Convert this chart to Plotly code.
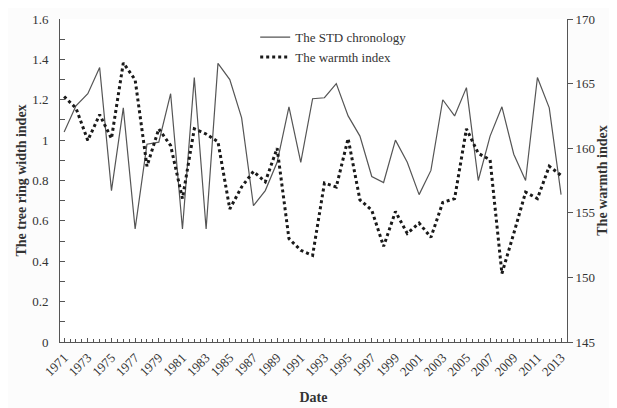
import plotly.graph_objects as go

# years and the two series
years = list(range(1971, 2014))

std_chronology = [1.04, 1.17, 1.23, 1.36, 0.75, 1.16, 0.56, 0.98, 0.99, 1.23,
                  0.56, 1.31, 0.56, 1.38, 1.30, 1.11, 0.675, 0.75, 0.89, 1.165,
                  0.89, 1.205, 1.21, 1.28, 1.12, 1.02, 0.82, 0.79, 1.00, 0.89,
                  0.73, 0.85, 1.20, 1.12, 1.26, 0.80, 1.02, 1.165, 0.93, 0.80,
                  1.31, 1.16, 0.73]

warmth_index = [164.0, 163.1, 160.6, 162.6, 160.75, 166.6, 165.3, 158.6, 161.5, 160.2,
                156.1, 161.5, 161.1, 160.5, 155.3, 157.0, 158.2, 157.4, 160.0, 153.0,
                152.1, 151.7, 157.3, 157.0, 160.75, 156.0, 155.2, 152.4, 155.1, 153.4,
                154.2, 153.1, 155.8, 156.1, 161.5, 159.6, 159.1, 150.3, 153.4, 156.6,
                156.1, 158.6, 157.9]

year_labels = list(range(1971, 2014, 2))

serif = "Liberation Serif, Times New Roman, serif"

fig = go.Figure()

fig.add_trace(go.Scatter(x=years, y=std_chronology, mode="lines",
                         name="The STD chronology",
                         line=dict(color="#555555", width=1.2)))
fig.add_trace(go.Scatter(x=years, y=warmth_index, mode="lines",
                         name="The warmth index", yaxis="y2",
                         line=dict(color="#1a1a1a", width=3, dash="3px,3px")))

# page body has an 8px margin, so the figure is a bit smaller than the window
fig.update_layout(
    width=609, height=400,
    margin=dict(l=52, r=50, t=11, b=66),
    plot_bgcolor="white", paper_bgcolor="#fcfcfc",
    font=dict(family=serif, size=13, color="#333333"),
    showlegend=True,
    legend=dict(x=0.385, y=0.99, xanchor="left", yanchor="top",
                bgcolor="rgba(0,0,0,0)", font=dict(size=13, color="#333333"),
                tracegroupgap=0, itemwidth=30),
    xaxis=dict(range=[1970.65, 2013.5], tickvals=year_labels,
               ticktext=[str(y) for y in year_labels], tickangle=-45,
               ticks="inside", ticklen=4, tickcolor="#555555",
               minor=dict(dtick=0.5, tick0=1971, ticks="inside", ticklen=3, tickcolor="#555555"),
               showline=True, linecolor="#555555", linewidth=1, showgrid=False, zeroline=False,
               tickfont=dict(size=13), ticklabelstandoff=2, automargin=False,
               title=dict(text="<b>Date</b>", font=dict(size=14, color="#333333"), standoff=13)),
    yaxis=dict(range=[0, 1.6], dtick=0.2, tickformat="~g",
               ticks="inside", ticklen=5, tickcolor="#555555",
               minor=dict(dtick=0.1, ticks="inside", ticklen=5, tickcolor="#555555"),
               showline=True, linecolor="#555555", linewidth=1, showgrid=False, zeroline=False,
               tickfont=dict(size=13), ticklabelstandoff=8, automargin=False,
               title=dict(text="<b>The tree ring width index</b>", font=dict(size=14, color="#333333"), standoff=2)),
    yaxis2=dict(range=[145, 170], dtick=5, overlaying="y", side="right",
                ticks="outside", ticklen=5, tickcolor="#555555",
                showline=True, linecolor="#555555", linewidth=1, showgrid=False, zeroline=False,
                tickfont=dict(size=13), automargin=False,
                title=dict(text="<b>The warmth index</b>", font=dict(size=14, color="#333333"), standoff=2)),
)

fig.write_html("out.html")
